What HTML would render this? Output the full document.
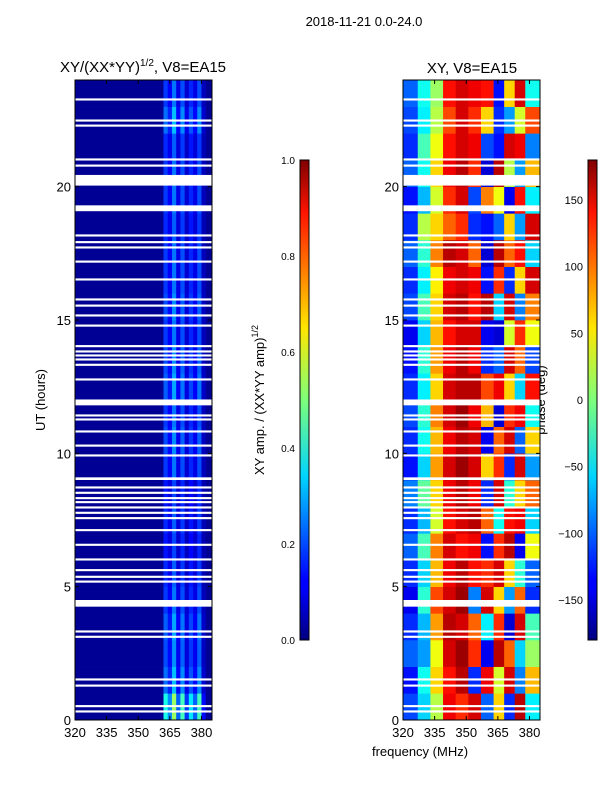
<!DOCTYPE html>
<html><head><meta charset="utf-8">
<style>
body{margin:0;background:#fff;font-family:"Liberation Sans",sans-serif;}
svg text{font-family:"Liberation Sans","DejaVu Sans",sans-serif;fill:#000;}
</style></head>
<body>
<svg id="fig" width="600" height="800" xmlns="http://www.w3.org/2000/svg">
<rect width="600" height="800" fill="#fff"/>
<text x="364" y="26" font-size="13" text-anchor="middle">2018-11-21 0.0-24.0</text>
<text x="143" y="72" font-size="15" text-anchor="middle">XY/(XX*YY)<tspan font-size="10" dy="-6">1/2</tspan><tspan dy="6">, V8=EA15</tspan></text>
<text x="472" y="73" font-size="15" text-anchor="middle">XY, V8=EA15</text>
<text x="45" y="400" font-size="13" text-anchor="middle" transform="rotate(-90 45 400)">UT (hours)</text>
<text x="420" y="756" font-size="13" text-anchor="middle">frequency (MHz)</text>
<text x="264" y="400" font-size="13" text-anchor="middle" transform="rotate(-90 264 400)">XY amp. / (XX*YY amp)<tspan font-size="9" dy="-6">1/2</tspan></text>
<text x="545" y="400" font-size="13" text-anchor="middle" transform="rotate(-90 545 400)">phase (deg)</text>
<defs>
<linearGradient id="jet" x1="0" y1="1" x2="0" y2="0">
<stop offset="0" stop-color="#00007f"/><stop offset="0.11" stop-color="#0000ff"/><stop offset="0.125" stop-color="#0000ff"/>
<stop offset="0.34" stop-color="#00d4ff"/><stop offset="0.5" stop-color="#7dff7a"/><stop offset="0.65" stop-color="#ffe600"/>
<stop offset="0.89" stop-color="#ff1400"/><stop offset="1" stop-color="#7f0000"/>
</linearGradient>
</defs>
<g id="left"></g>
<g id="right"></g>
<g id="axes"></g>
<rect x="300" y="160" width="9" height="480" fill="url(#jet)" stroke="#000" stroke-width="1"/>
<rect x="588" y="160" width="9" height="480" fill="url(#jet)" stroke="#000" stroke-width="1"/>
</svg>
<script>
// ---- data ----
const timeRange = [0, 24];
const freqRange = [320, 385];
const freqTicks = [320, 335, 350, 365, 380];
const timeTicks = [0, 5, 10, 15, 20];
const cb1Ticks = [0.0, 0.2, 0.4, 0.6, 0.8, 1.0];
const cb2Ticks = [-150, -100, -50, 0, 50, 100, 150];
// amplitude columns (freq bin edges) and per-column baseline values
const ampEdges = [320, 362, 364, 366, 368, 370, 372, 374, 376, 378, 380, 382, 385];
const ampCols = [0.02, 0.18, 0.12, 0.24, 0.1, 0.2, 0.08, 0.16, 0.1, 0.2, 0.06, 0.02];
// per-hour scale of the bright band (hour 0..23)
const ampHourScale = [2.2, 1.3, 1.1, 1.2, 1.0, 0.9, 0.8, 0.9, 0.8, 1.0, 1.1, 1.0, 1.2, 1.1, 1.0, 1.1, 1.0, 1.0, 0.9, 1.0, 1.0, 0.9, 1.3, 1.0];
// phase columns
const phEdges = [320, 327, 333, 339, 345, 351, 357, 363, 368, 373, 378, 385];
// phase values per hour row (deg), 11 columns
const phRows = [
 [-110,-60,20,140,120,150,-100,60,-120,160,-50],
 [-130,-40,60,130,160,-120,140,30,150,-90,70],
 [-100,-80,40,150,170,120,-140,160,100,-60,10],
 [-120,-70,80,160,150,100,-50,120,-150,150,-20],
 [-140,-30,110,150,170,-90,150,60,-80,100,-120],
 [-120,-60,70,140,160,130,120,150,60,-30,-100],
 [-100,-20,90,150,130,140,-130,120,160,-140,40],
 [-120,-70,30,130,150,160,100,-40,130,140,-60],
 [-90,-10,60,140,160,140,-120,150,-30,60,100],
 [-130,-60,80,150,170,150,60,120,-120,150,-80],
 [-120,-40,70,140,160,150,-140,100,150,-100,60],
 [-110,-30,90,150,170,140,70,-150,120,140,-40],
 [-120,-50,60,150,160,160,110,140,60,-60,130],
 [-130,-30,80,140,160,140,-120,-100,150,100,-110],
 [-140,-60,70,130,150,150,-140,-150,30,120,40],
 [-110,-20,60,150,160,130,160,-60,150,-90,90],
 [-120,-50,50,140,150,140,-130,120,-120,60,150],
 [-100,-30,90,160,150,100,-150,160,100,130,-60],
 [-120,20,60,100,120,-120,-130,-100,60,-80,150],
 [-130,-70,30,120,150,-110,90,40,-140,130,-50],
 [-100,-40,60,140,160,120,-150,160,20,-80,70],
 [-120,-20,40,130,150,140,-110,-130,150,140,-90],
 [-110,-50,20,110,150,120,60,-120,-80,30,110],
 [-100,-40,10,130,150,140,130,-130,60,150,-40]
];
// flagged (white) time intervals [start, end] in hours
const gapStarts = [0.28,0.48,1.25,1.48,3.08,3.28,4.25,5.15,5.33,5.58,5.98,6.53,7.08,7.53,7.73,7.93,8.13,8.28,8.48,8.68,9.0,9.88,10.25,10.78,11.23,11.38,11.8,12.73,13.28,13.48,13.63,13.78,13.98,14.75,15.13,15.5,15.73,16.48,17.15,17.68,17.88,18.13,19.08,20.04,20.75,20.98,22.25,22.44,23.23];
const gapEnds   = [0.36,0.56,1.33,1.56,3.16,3.36,4.5,5.23,5.41,5.66,6.06,6.61,7.16,7.61,7.81,8.01,8.21,8.36,8.56,8.76,9.1,9.96,10.33,10.86,11.31,11.46,12.02,12.81,13.36,13.56,13.71,13.86,14.06,14.83,15.21,15.58,15.81,16.56,17.23,17.76,17.96,18.21,19.3,20.44,20.83,21.06,22.33,22.52,23.31];

// ---- drawing ----
const NS = "http://www.w3.org/2000/svg";
const P1 = {x0:75, x1:212}, P2 = {x0:403, x1:540}, Y0 = 720, Y1 = 80;
function xs(p, f){ return p.x0 + (f - freqRange[0])/(freqRange[1]-freqRange[0])*(p.x1-p.x0); }
function ys(t){ return Y0 - (t - timeRange[0])/(timeRange[1]-timeRange[0])*(Y0-Y1); }
function jet(v){
  v = Math.max(0, Math.min(1, v));
  const r = Math.min(4*v-1.5, -4*v+4.5), g = Math.min(4*v-0.5, -4*v+3.5), b = Math.min(4*v+0.5, -4*v+2.5);
  const c = x => Math.round(255*Math.max(0, Math.min(1, x)));
  return `rgb(${c(r)},${c(g)},${c(b)})`;
}
function rect(g, x, y, w, h, fill){
  const r = document.createElementNS(NS, "rect");
  r.setAttribute("x", x); r.setAttribute("y", y); r.setAttribute("width", w); r.setAttribute("height", h);
  r.setAttribute("fill", fill);
  g.appendChild(r); return r;
}
const L = document.getElementById("left"), R = document.getElementById("right");
for (let h = 0; h < 24; h++) {
  for (let i = 0; i < ampCols.length; i++) {
    const v = i === 0 || i === ampCols.length-1 ? ampCols[i] : ampCols[i]*ampHourScale[h];
    const x = xs(P1, ampEdges[i]), x2 = xs(P1, ampEdges[i+1]);
    const c = rect(L, x, ys(h+1), x2-x+0.3, ys(h)-ys(h+1)+0.3, jet(v));
    
    
  }
  for (let i = 0; i < phRows[h].length; i++) {
    const v = (phRows[h][i] + 180)/360;
    const x = xs(P2, phEdges[i]), x2 = xs(P2, phEdges[i+1]);
    const c = rect(R, x, ys(h+1), x2-x+0.3, ys(h)-ys(h+1)+0.3, jet(v));
    
    
  }
}
for (let k = 0; k < gapStarts.length; k++) {
  for (const [g, p] of [[L, P1], [R, P2]]) {
    const r = rect(g, p.x0, ys(gapEnds[k]), p.x1-p.x0, ys(gapStarts[k])-ys(gapEnds[k]), "#fff");
    
    
  }
}
const A = document.getElementById("axes");
function line(x1,y1,x2,y2){
  const l = document.createElementNS(NS,"line");
  l.setAttribute("x1",x1);l.setAttribute("y1",y1);l.setAttribute("x2",x2);l.setAttribute("y2",y2);
  l.setAttribute("stroke","#000");l.setAttribute("stroke-width","1");A.appendChild(l);return l;
}
function text(x,y,s,anchor,size){
  const t = document.createElementNS(NS,"text");
  t.setAttribute("x",x);t.setAttribute("y",y);t.setAttribute("text-anchor",anchor);t.setAttribute("font-size",size||13);
  t.textContent = s;A.appendChild(t);return t;
}
for (const [p, nm] of [[P1,'left'],[P2,'right']]) {
  const fr = document.createElementNS(NS,"rect");
  fr.setAttribute("x",p.x0);fr.setAttribute("y",Y1);fr.setAttribute("width",p.x1-p.x0);fr.setAttribute("height",Y0-Y1);
  fr.setAttribute("fill","none");fr.setAttribute("stroke","#000");
  
  
  A.appendChild(fr);
  for (const f of freqTicks) {
    const x = xs(p, f);
    line(x, Y0, x, Y0-4); line(x, Y1, x, Y1+4);
    const t = text(x, Y0+17, String(f), "middle");
    
    
  }
  for (const tv of timeTicks) {
    const y = ys(tv);
    line(p.x0, y, p.x0+4, y); line(p.x1, y, p.x1-4, y);
    const t = text(p.x0-4, y+5, String(tv), "end");
    
    
  }
}
for (const v of cb1Ticks) {
  const y = 640 - v*480;
  line(300, y, 303, y); line(309, y, 306, y);
  const t = text(295, y+4, v.toFixed(1), "end", 10);
  
  
}
for (const v of cb2Ticks) {
  const y = 640 - (v+180)/360*480;
  line(588, y, 591, y); line(597, y, 594, y);
  const t = text(583, y+4, v < 0 ? "\u2212" + (-v) : String(v), "end", 11);
  
  
}
</script>
</body></html>
